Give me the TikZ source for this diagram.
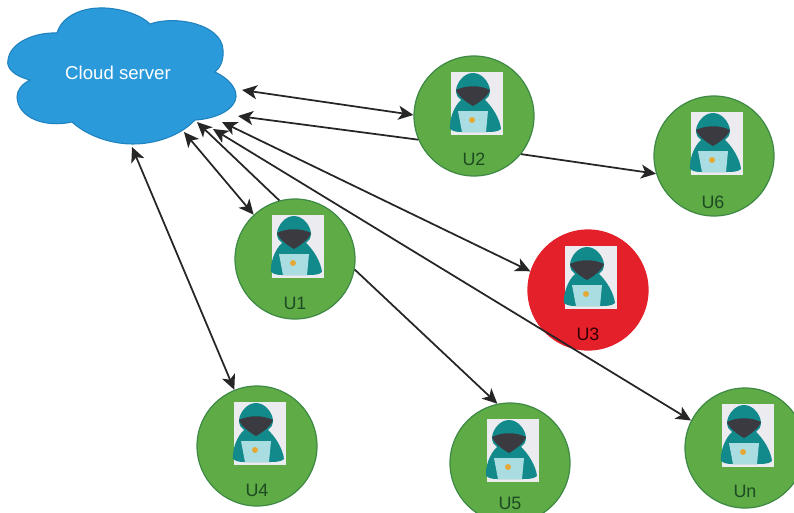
\documentclass[tikz,border=0pt]{standalone}
\usepackage{xcolor}
\usepackage{fontspec}
\setmainfont{Liberation Sans}
\usepackage{tikz}
\usetikzlibrary{calc}
\usetikzlibrary{arrows.meta}
\definecolor{cloudblue}{HTML}{2A9ADB}
\definecolor{cloudedge}{HTML}{1F82BE}
\definecolor{usergreen}{HTML}{5FAB45}
\definecolor{useredge}{HTML}{3F8A45}
\definecolor{userred}{HTML}{E4202A}
\definecolor{hoodteal}{HTML}{128A8C}
\definecolor{hoodface}{HTML}{3B3A40}
\definecolor{iconback}{HTML}{ECECF0}
\definecolor{screenblue}{HTML}{A9DDE2}
\definecolor{dotorange}{HTML}{E5A736}
\definecolor{labelgreen}{HTML}{1C4A22}
\tikzset{
	user/.style={circle,draw=useredge,line width=0.7pt,fill=usergreen,minimum size=2.4cm,inner sep=0pt},
	userlabel/.style={text=labelgreen,font=\fontsize{10.2}{12}\selectfont,inner sep=0pt},
	link/.style={line width=1pt,draw=black!85,>={Stealth[length=3mm,width=2.8mm,inset=0.8mm]}},
	hacker/.pic={
		\fill[iconback] (-23,-44) rectangle (29,19);
		\fill[hoodteal] (-1,-43) .. controls (-10,-43) and (-17,-34) .. (-18,-26) .. controls (-18,-21) and (-16,-18) .. (-13,-16) .. controls (-20,-10) and (-25,4) .. (-24,13) .. controls (-20,16) and (-16,16) .. (-12,16) -- (12,16) .. controls (18,16) and (24,16) .. (27,13) .. controls (26,3) and (18,-10) .. (11,-16) .. controls (14,-18) and (16,-21) .. (16,-26) .. controls (15,-34) and (8,-43) .. (-1,-43) -- cycle;
		\fill[hoodface] (-18,-26) .. controls (-8,-31) and (6,-31) .. (16,-26) .. controls (14,-20) and (6,-14) .. (-1,-10) .. controls (-8,-14) and (-16,-20) .. (-18,-26) -- cycle;
		\fill[screenblue] (-16,-5) -- (14,-5) -- (12,16) -- (-12,16) -- cycle;
		\fill[dotorange] (-2,4) circle (3);
	}
}
\begin{document}
\begin{tikzpicture}[x=0.02cm,y=-0.02cm]
	\useasboundingbox (0,0) rectangle (794,512);
	% cloud
	\draw[fill=cloudblue,draw=cloudedge,line width=0.6pt] (30,80) .. controls (14,76) and (6,68) .. (8,60) .. controls (10,42) and (36,32) .. (57,33) .. controls (62,16) and (82,7) .. (105,8) .. controls (125,9) and (142,16) .. (150,24) .. controls (175,15) and (222,24) .. (223,50) .. controls (224,60) and (220,68) .. (215,72) .. controls (228,78) and (237,88) .. (236,97) .. controls (235,110) and (215,119) .. (195,120) .. controls (180,136) and (155,144) .. (133,144) .. controls (108,144) and (85,134) .. (72,122) .. controls (45,128) and (18,118) .. (17,97) .. controls (17,90) and (22,84) .. (30,80) -- cycle;
	\node[text=white,font=\fontsize{10.6}{12}\selectfont,inner sep=0pt] (cloud) at (118,73) {Cloud server};
	\coordinate (c1) at (242,90);
	\coordinate (c2) at (238,116);
	\coordinate (c3) at (222,122);
	\coordinate (c4) at (213,129);
	\coordinate (c5) at (197,122);
	\coordinate (c6) at (184,132);
	\coordinate (c7) at (132,147);
	% users
	\node[user] (u1) at (295,259) {};
	\node[user] (u2) at (474,116) {};
	\node[user,fill=userred,draw=userred] (u3) at (588,290) {};
	\node[user] (u4) at (257,446) {};
	\node[user] (u5) at (510,463) {};
	\node[user] (u6) at (714,156) {};
	\node[user] (un) at (745,448) {};
	\pic at (u1) {hacker};
	\pic at (u2) {hacker};
	\pic at (u3) {hacker};
	\pic at (u4) {hacker};
	\pic at (u5) {hacker};
	\pic at (u6) {hacker};
	\pic at (un) {hacker};
	\node[userlabel] (l1) at ($(u1)+(0,44)$) {U1};
	\node[userlabel] (l2) at ($(u2)+(0,43)$) {U2};
	\node[userlabel,text=black!80!red] (l3) at ($(u3)+(0,44)$) {U3};
	\node[userlabel] (l4) at ($(u4)+(0,44)$) {U4};
	\node[userlabel] (l5) at ($(u5)+(0,40)$) {U5};
	\node[userlabel] (l6) at ($(u6)+(-1,46)$) {U6};
	\node[userlabel] (ln) at ($(un)+(0,43)$) {Un};
	% links
	\draw[link,<->] (c1) -- (u2.179);
	\draw[link,->] (u2.203) -- (c2);
	\draw[link,->] (u2.-39) -- (u6.197);
	\draw[link,<->] (c6) -- (u1.133);
	\draw[link,->] (u1.105) -- (c5);
	\draw[link,->] (u1.-10) -- (u5.102);
	\draw[link,<->] (c3) -- (u3.162);
	\draw[link,<->] (c4) -- (un.153);
	\draw[link,<->] (c7) -- (u4.112);
\end{tikzpicture}
\end{document}
